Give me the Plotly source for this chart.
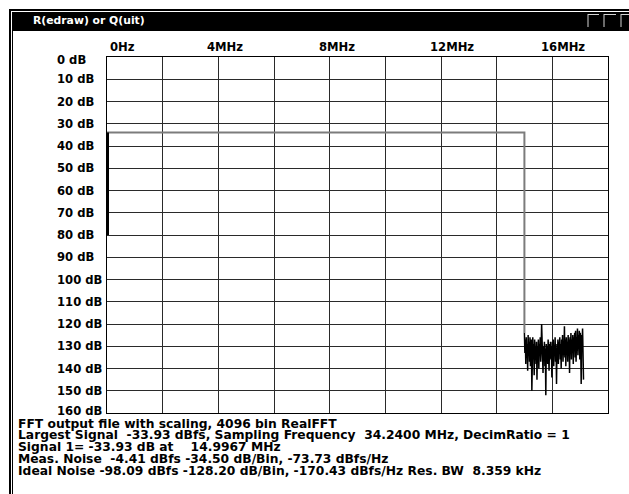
import numpy as np
import plotly.graph_objects as go

# ---- spectrum data -------------------------------------------------------
fs_mhz = 34.24            # sampling frequency
n_bins = 4096
signal_db = 33.93         # largest signal (plotted as positive attenuation)
signal_mhz = 14.9967      # frequency of the largest signal
dc_span_db = [33.93, 80.0]  # DC bin trace at 0 Hz

# noise floor of the spectrum between the signal and Nyquist (dB below FS)
noise_db = [
    124, 133, 127, 138, 126, 135, 129, 141, 125, 134,
    128, 137, 126, 139, 130, 127, 150, 131, 126, 136,
    129, 143, 127, 134, 131, 138, 128, 145, 130, 135,
    127, 140, 129, 133, 126, 137, 131, 120, 134, 128,
    142, 130, 136, 128, 139, 131, 152, 129, 135, 130,
    138, 127, 133, 141, 129, 136, 128, 134, 130, 144,
    128, 135, 127, 139, 130, 133, 126, 137, 129, 147,
    131, 134, 127, 138, 128, 132, 126, 136, 129, 140,
    127, 133, 125, 137, 128, 134, 121, 135, 127, 139,
    126, 132, 128, 137, 125, 134, 127, 142, 126, 131,
    124, 136, 127, 133, 125, 138, 126, 130, 124, 135,
    123, 137, 126, 132, 122, 134, 125, 131, 123, 136,
    124, 130, 147, 125, 128, 122, 131, 145,
]

x_tick_vals = [0, 4, 8, 12, 16]
x_tick_text = ["0Hz", "4MHz", "8MHz", "12MHz", "16MHz"]
y_tick_vals = list(range(0, 161, 10))
y_tick_text = [f"{v} dB" for v in y_tick_vals]

info_lines = [
    "FFT output file with scaling, 4096 bin RealFFT",
    f"Largest Signal\u00a0 -{signal_db:.2f} dBfs, Sampling Frequency\u00a0 {fs_mhz:.4f} MHz, DecimRatio = 1",
    f"Signal 1= -{signal_db:.2f} dB at\u00a0\u00a0\u00a0 {signal_mhz:.4f} MHz",
    "Meas. Noise\u00a0 -4.41 dBfs -34.50 dB/Bin, -73.73 dBfs/Hz",
    "Ideal Noise -98.09 dBfs -128.20 dB/Bin, -170.43 dBfs/Hz Res. BW\u00a0 8.359 kHz",
]

# noise bins run from the signal bin up to Nyquist
nyquist = fs_mhz / 2
noise_freq = np.linspace(signal_mhz, nyquist, len(noise_db))

# ---- page geometry (pixels) ----------------------------------------------
W, H = 629, 494
PL, PR, PT, PB = 107, 608, 57, 413


def px(x):
    return (x - PL) / (PR - PL)


def py(y):
    return (PB - y) / (PB - PT)


FONT = "DejaVu Sans, Verdana, sans-serif"
FS = 11.6
FS_INFO = 12.3

fig = go.Figure()

fig.add_trace(go.Scatter(
    x=noise_freq, y=noise_db, mode="lines",
    line=dict(color="black", width=1.5), hoverinfo="skip", showlegend=False))

# marker for the largest signal
fig.add_trace(go.Scatter(
    x=[0, signal_mhz, signal_mhz], y=[signal_db, signal_db, noise_db[0]],
    mode="lines", line=dict(color="#7c7c7c", width=2),
    hoverinfo="skip", showlegend=False))

# DC bin
fig.add_trace(go.Scatter(
    x=[0, 0], y=dc_span_db, mode="lines",
    line=dict(color="black", width=4), hoverinfo="skip", showlegend=False))

fig.update_xaxes(
    range=[0, 18], dtick=2, tick0=0, showticklabels=False, ticks="",
    showgrid=True, gridcolor="#2a2a2a", gridwidth=1, zeroline=False,
    showline=True, linecolor="black", linewidth=1, mirror=True)
fig.update_yaxes(
    range=[160, 0], dtick=10, tick0=0, showticklabels=False, ticks="",
    showgrid=True, gridcolor="#2a2a2a", gridwidth=1, zeroline=False,
    showline=True, linecolor="black", linewidth=1, mirror=True)

annotations = []
for v, t in zip(x_tick_vals, x_tick_text):
    annotations.append(dict(
        x=v, xref="x", y=1, yref="paper", yanchor="bottom", yshift=1,
        xanchor="left", xshift=1 if v == 0 else -13, text=t, showarrow=False,
        font=dict(family=FONT, size=FS, color="black", weight="bold")))

for v, t in zip(y_tick_vals, y_tick_text):
    shift = -3 if v == 0 else (2 if v == 160 else 0)
    annotations.append(dict(
        x=px(55), xref="paper", y=v, yref="y", yanchor="middle", yshift=shift,
        xanchor="left", text=t, showarrow=False,
        font=dict(family=FONT, size=FS, color="black", weight="bold")))

for i, line in enumerate(info_lines):
    annotations.append(dict(
        x=px(16), xref="paper", y=py(423.5 + i * 11.75), yref="paper",
        yanchor="middle", xanchor="left", text=line, showarrow=False,
        font=dict(family=FONT, size=FS_INFO, color="black", weight="bold")))

# window title
annotations.append(dict(
    x=px(31), xref="paper", y=py(21), yref="paper", yanchor="middle",
    xanchor="left", text="R(edraw) or Q(uit)", showarrow=False,
    font=dict(family=FONT, size=10.8, color="white", weight="bold")))

shapes = []


def seg(x0, y0, x1, y1, color="black", width=1):
    shapes.append(dict(type="line", xref="paper", yref="paper",
                       x0=px(x0), y0=py(y0), x1=px(x1), y1=py(y1),
                       line=dict(color=color, width=width)))


# window frame and title bar
shapes.append(dict(type="rect", xref="paper", yref="paper",
                   x0=px(12), x1=px(W + 2), y0=py(31), y1=py(12),
                   fillcolor="black", line=dict(width=0)))
seg(9, 10, W + 2, 10, width=2)
seg(10, 9, 10, H + 2, width=2)
seg(12.5, 12, 12.5, H + 2, width=1)

# title-bar buttons
for bx, bw in [(588, 11), (604, 12), (621, 10)]:
    seg(bx, 14, bx, 27, color="#d4d4d4", width=1)
    seg(bx, 14.5, bx + bw, 14.5, color="#d4d4d4", width=1)

fig.update_layout(
    width=W, height=H, autosize=False,
    margin=dict(l=PL, r=W - PR, t=PT, b=H - PB, pad=0),
    paper_bgcolor="white", plot_bgcolor="white",
    annotations=annotations, shapes=shapes, showlegend=False)

fig.write_html("out.html")
